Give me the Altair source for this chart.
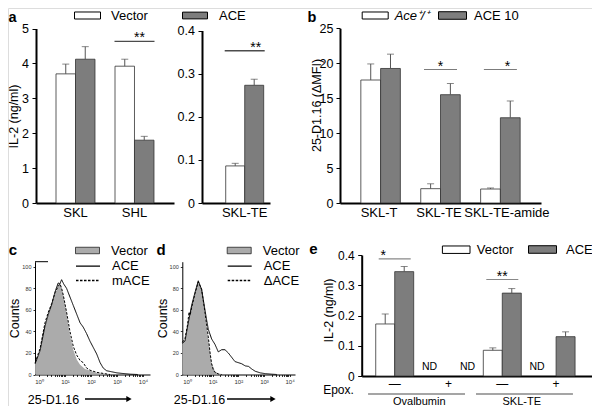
import math
import altair as alt
import pandas as pd

FONT = "Liberation Sans"
W, H = 584, 398
SERIES = ["Vector", "ACE"]
WHITE, DARK = "#ffffff", "#7d7d7d"
HIST_FILL = "#ababab"
RECT = "M-1,-0.27H1V0.27H-1Z"
LINE_SYM = "M-2,0H2"
TOP_LEG_Y = 15


def P(v):
    return v - 8


# ---------------- data ----------------
a1_groups = ["SKL", "SHL"]
a1_vector = [3.70, 3.92]
a1_vector_top = [3.98, 4.12]
a1_ace = [4.12, 1.80]
a1_ace_top = [4.48, 1.91]
a1_sig_groups = ["SHL"]
a1_sig_level = [4.63]
a1_sig_text = ["**"]

a2_groups = ["SKL-TE"]
a2_vector = [0.086]
a2_vector_top = [0.092]
a2_ace = [0.273]
a2_ace_top = [0.287]
a2_sig_groups = ["SKL-TE"]
a2_sig_level = [0.353]
a2_sig_text = ["**"]

b_groups = ["SKL-T", "SKL-TE", "SKL-TE-amide"]
b_wt = [17.6, 2.05, 2.0]
b_wt_top = [19.9, 2.75, 2.15]
b_ace = [19.25, 15.5, 12.2]
b_ace_top = [21.3, 17.1, 14.6]
b_sig_groups = ["SKL-TE", "SKL-TE-amide"]
b_sig_level = [19.1, 19.1]
b_sig_text = ["*", "*"]
b_labels = ["Ace⁺/⁺", "ACE 10"]

e_groups = ["Ovalbumin −", "Ovalbumin +", "SKL-TE −", "SKL-TE +"]
e_vector = [0.172, None, 0.085, None]
e_vector_top = [0.205, None, 0.093, None]
e_ace = [0.345, None, 0.274, 0.130]
e_ace_top = [0.362, None, 0.289, 0.146]
e_sig_groups = ["Ovalbumin −", "SKL-TE −"]
e_sig_level = [0.387, 0.319]
e_sig_text = ["*", "**"]
e_supergroups = ["Ovalbumin", "SKL-TE"]

# histograms: x in log10 units of fluorescence, y in counts
c_vector_L = [-0.15, 0.04, 0.23, 0.36, 0.49, 0.62, 0.74, 0.81, 0.87, 0.94, 1.06, 1.19, 1.32, 1.45, 1.58, 1.77, 2.03, 2.22, 2.47, 2.73]
c_vector_n = [10, 21, 44, 55, 64, 75, 83, 85, 80, 73, 57, 37, 23, 14, 9, 5, 3, 1.5, 0.6, 0]
c_ace_L = [-0.15, 0.04, 0.23, 0.36, 0.49, 0.62, 0.74, 0.80, 0.87, 0.95, 1.06, 1.19, 1.32, 1.45, 1.58, 1.70, 1.83, 1.96, 2.09, 2.22, 2.35, 2.47, 2.60, 2.80, 3.00, 3.20, 3.50, 3.80]
c_ace_n = [10, 22, 45, 56, 65, 77, 85, 84, 88, 84, 80, 72, 64, 56, 48, 44, 38, 31, 25, 19, 11, 6, 3.5, 2.5, 1.5, 1, 0.3, 0]
c_mace_L = [-0.15, 0.04, 0.23, 0.36, 0.49, 0.62, 0.74, 0.81, 0.87, 0.94, 1.06, 1.19, 1.32, 1.45, 1.58, 1.70, 1.83, 1.96, 2.22, 2.47, 2.73]
c_mace_n = [11, 24, 48, 58, 66, 76, 82, 84, 80, 73, 58, 40, 26, 18, 13, 11, 6, 4, 2, 1, 0]

d_vector_L = [-0.18, -0.08, 0.05, 0.18, 0.31, 0.44, 0.57, 0.70, 0.83, 0.96, 1.09, 1.22, 1.35]
d_vector_n = [29, 31, 48, 63, 76, 87, 79, 57, 33, 11, 3, 1, 0]
d_ace_L = [-0.18, -0.08, 0.05, 0.18, 0.31, 0.44, 0.57, 0.70, 0.77, 0.83, 0.96, 1.09, 1.22, 1.35, 1.48, 1.61, 1.74, 1.87, 2.00, 2.13, 2.27, 2.40, 2.53, 2.66, 2.86, 3.05, 3.30, 3.50]
d_ace_n = [29, 31, 48, 64, 76, 87, 79, 60, 50, 42, 33, 28, 21, 23, 23, 20, 16, 12, 11, 10, 8, 7.5, 5, 3, 1.5, 0.8, 0.3, 0]
d_dace_L = [-0.18, -0.08, 0.02, 0.08, 0.12, 0.18, 0.31, 0.44, 0.57, 0.70, 0.83, 0.90, 0.96, 1.03, 1.09, 1.22, 1.35]
d_dace_n = [30, 33, 46, 58, 55, 62, 75, 86, 79, 58, 35, 20, 10, 4, 2, 0.5, 0]

hist_major = [0, 1, 2, 3, 4]
hist_ticks = sorted(set(hist_major + [round(math.log10(k) + n, 4) for n in range(4) for k in range(2, 10)]))
count_ticks = [0, 20, 40, 60, 80, 100]


# ---------------- helpers ----------------
def y_axis(x_page, values, fmt=None, title=None, tx=None, ty=None, lsize=12.5, tick=4, pad=3.5,
           dwidth=2, tsize=12.5):
    kw = dict(orient="left", offset=-P(x_page), values=values, grid=False,
              labelFont=FONT, labelFontSize=lsize, labelColor="black", labelPadding=pad,
              tickSize=tick, tickColor="black", tickWidth=1,
              domainColor="black", domainWidth=dwidth, labelOverlap=False)
    if fmt:
        kw["format"] = fmt
    if title:
        kw.update(title=title, titleFont=FONT, titleFontSize=tsize, titleFontWeight="normal",
                  titleColor="black", titleAngle=270, titleAlign="center", titleBaseline="middle",
                  titleX=P(tx) - P(x_page), titleY=P(ty))
    else:
        kw["title"] = None
    return alt.Axis(**kw)


def band_x_axis(y_page, label_expr=None, title=None, tx=None, ty_off=None, lsize=13, pad=3,
                label_offset=None):
    kw = dict(orient="bottom", offset=P(y_page) - H, ticks=False, grid=False, labelAngle=0,
              labelFont=FONT, labelFontSize=lsize, labelColor="black", labelPadding=pad,
              domainColor="black", domainWidth=2, labelOverlap=False)
    if label_expr:
        kw["labelExpr"] = label_expr
    if label_offset is not None:
        kw["labelOffset"] = label_offset
    if title:
        kw.update(title=title, titleFont=FONT, titleFontSize=12, titleFontWeight="normal",
                  titleColor="black", titleAlign="center", titleBaseline="middle",
                  titleX=P(tx), titleY=ty_off)
    else:
        kw["title"] = None
    return alt.Axis(**kw)


def fill_legend(x_page, y_page, sym_w, label_off, italic=False):
    kw = dict(orient="none", legendX=P(x_page), legendY=P(y_page) - sym_w / 2, title=None,
              symbolType=RECT, symbolSize=sym_w ** 2, symbolStrokeColor="black",
              symbolStrokeWidth=1, labelFont=FONT, labelFontSize=13, labelColor="black",
              labelOffset=label_off, padding=0)
    if italic:
        kw["labelFontStyle"] = "italic"
    return alt.Legend(**kw)


def bar_panel(groups, vec, vec_top, ace, ace_top, labels, xr, pin, pout, align, yr, ydom,
              yax, xax, sig_groups, sig_level, sig_text, sig_size, sig_color, sig_width,
              legends=(None, None), nd=False):
    rows = []
    for g, v, t in zip(groups, vec, vec_top):
        rows.append(dict(group=g, series="Vector", label=labels[0], value=v, top=t, base=0))
    for g, v, t in zip(groups, ace, ace_top):
        rows.append(dict(group=g, series="ACE", label=labels[1], value=v, top=t, base=0))
    df = pd.DataFrame(rows)
    sig_df = pd.DataFrame(dict(group=sig_groups, level=sig_level, stars=sig_text))

    xs = alt.Scale(domain=groups, range=[P(xr[0]), P(xr[1])], paddingInner=pin,
                   paddingOuter=pout, align=align)
    ys = alt.Scale(domain=ydom, range=[P(yr[0]), P(yr[1])], nice=False, zero=True)
    xo = alt.XOffset("series:N", scale=alt.Scale(domain=SERIES, paddingInner=0, paddingOuter=0))

    def xe(ax=None):
        return alt.X("group:N", scale=xs, axis=ax)

    layers = []
    for i, (sname, color) in enumerate([("Vector", WHITE), ("ACE", DARK)]):
        sub = df[(df.series == sname)]
        layers.append(
            alt.Chart(sub).mark_bar(stroke="#333", strokeWidth=0.8).encode(
                x=xe(xax if i == 0 else None), xOffset=xo,
                y=alt.Y("value:Q", scale=ys, axis=yax if i == 0 else None),
                fill=alt.Fill("label:N", scale=alt.Scale(domain=[labels[i]], range=[color]),
                              legend=legends[i]),
            )
        )
    layers.append(
        alt.Chart(df).mark_rule(color="#555", strokeWidth=1).encode(
            x=xe(), xOffset=xo, y=alt.Y("value:Q", scale=ys, axis=None), y2="top:Q")
    )
    layers.append(
        alt.Chart(df).mark_tick(orient="horizontal", size=7, thickness=1, color="#555").encode(
            x=xe(), xOffset=xo, y=alt.Y("top:Q", scale=ys, axis=None))
    )
    layers.append(
        alt.Chart(sig_df).mark_tick(orient="horizontal", size=sig_size, thickness=sig_width,
                                    color=sig_color).encode(
            x=xe(), y=alt.Y("level:Q", scale=ys, axis=None))
    )
    layers.append(
        alt.Chart(sig_df).mark_text(font=FONT, fontSize=14, baseline="alphabetic",
                                    align="center", color="black", dy=1).encode(
            x=xe(), y=alt.Y("level:Q", scale=ys, axis=None), text="stars:N")
    )
    if nd:
        nd_df = df[df.value.isna()]
        layers.append(
            alt.Chart(nd_df).mark_text(font=FONT, fontSize=10.5, baseline="alphabetic",
                                       align="center", color="black", dy=-6.5).encode(
                x=xe(), xOffset=xo, y=alt.Y("base:Q", scale=ys, axis=None), text=alt.value("ND"))
        )
    return layers


def hist_panel(vL, vn, sL, sn, s2name, s2L, s2n, xr, xdom, counts_x, title_x, leg_x):
    area_df = pd.DataFrame(dict(L=vL, n=vn, series="Vector"))
    line_df = pd.concat([
        pd.DataFrame(dict(L=sL, n=sn, series="ACE")),
        pd.DataFrame(dict(L=s2L, n=s2n, series=s2name)),
    ])
    xs = alt.Scale(domain=xdom, range=[P(xr[0]), P(xr[1])], nice=False, zero=False)
    ys = alt.Scale(domain=[0, 104.7], range=[P(374.5), P(261.7)], nice=False, zero=True)
    xax = alt.Axis(orient="bottom", offset=P(374.5) - H, values=hist_ticks, grid=False,
                   labelExpr="indexof([0,1,2,3,4], datum.value) >= 0 ? '10' + ['⁰','¹','²','³','⁴'][datum.value] : ''",
                   labelFont=FONT, labelFontSize=6, labelColor="#333", labelPadding=2,
                   labelOverlap=False, labelFlush=False,
                   tickSize=2, tickColor="black", tickWidth=0.8, domainColor="black", domainWidth=1,
                   title="25-D1.16", titleFont=FONT, titleFontSize=12.5, titleFontWeight="normal",
                   titleColor="black", titleAlign="center", titleBaseline="middle",
                   titleX=P(title_x), titleY=P(399) - P(374.5))
    yax = alt.Axis(orient="left", offset=-P(xr[0]), values=count_ticks, grid=False,
                   labelFont=FONT, labelFontSize=5.5, labelColor="#333", labelPadding=2,
                   tickSize=2, tickColor="black", tickWidth=0.8, domainColor="black", domainWidth=1,
                   title="Counts", titleFont=FONT, titleFontSize=12.5, titleFontWeight="normal",
                   titleColor="black", titleAngle=270, titleAlign="center", titleBaseline="middle",
                   titleX=P(counts_x) - P(xr[0]), titleY=P(318))
    area = alt.Chart(area_df).mark_area(interpolate="linear").encode(
        x=alt.X("L:Q", scale=xs, axis=xax),
        y=alt.Y("n:Q", scale=ys, axis=yax),
        fill=alt.Fill("series:N", scale=alt.Scale(domain=["Vector"], range=[HIST_FILL]),
                      legend=alt.Legend(orient="none", legendX=P(leg_x), legendY=P(250) - 12,
                                        title=None, symbolType=RECT, symbolSize=24 ** 2,
                                        symbolStrokeColor="#222", symbolStrokeWidth=0.8,
                                        labelFont=FONT, labelFontSize=13, labelColor="black",
                                        labelOffset=11, padding=0)),
    )
    lines = alt.Chart(line_df).mark_line(color="black", strokeWidth=1).encode(
        x=alt.X("L:Q", scale=xs, axis=None),
        y=alt.Y("n:Q", scale=ys, axis=None),
        strokeDash=alt.StrokeDash("series:N",
                                  scale=alt.Scale(domain=["ACE", s2name], range=[[1, 0], [2.5, 1.5]]),
                                  legend=alt.Legend(orient="none", legendX=P(leg_x + 6),
                                                    legendY=P(265.7) - 6.5, title=None,
                                                    symbolType=LINE_SYM, symbolSize=144,
                                                    symbolStrokeColor="black", symbolStrokeWidth=1.3,
                                                    labelFont=FONT, labelFontSize=13,
                                                    labelColor="black", labelOffset=17,
                                                    rowPadding=0.3, padding=0)),
    )
    return [area, lines]


def one(txt):
    return pd.DataFrame({"t": [txt]})


def letter(txt, x, y, size=15):
    return alt.Chart(one(txt)).mark_text(font=FONT, fontSize=size, fontWeight="bold",
                                         align="center", baseline="alphabetic", color="black").encode(
        text="t:N", x=alt.value(P(x)), y=alt.value(P(y)))


def arrow(x0, x1, y):
    line = alt.Chart(one("")).mark_rule(color="black", strokeWidth=1.6).encode(
        x=alt.value(P(x0)), x2=alt.value(P(x1)), y=alt.value(P(y)))
    head = alt.Chart(one("")).mark_point(shape="triangle-right", filled=True, color="black",
                                         size=38, opacity=1).encode(
        x=alt.value(P(x1 + 1)), y=alt.value(P(y)))
    return [line, head]


# ---------------- panels ----------------
panel_a1 = bar_panel(
    a1_groups, a1_vector, a1_vector_top, a1_ace, a1_ace_top, ["Vector", "ACE"],
    (36, 174), 0.339, 0.339, 0.5, (203, 28.5), [0, 5],
    y_axis(36, [0, 1, 2, 3, 4, 5], title="IL-2 (ng/ml)", tx=13.5, ty=116),
    band_x_axis(203),
    a1_sig_groups, a1_sig_level, a1_sig_text, 40, "black", 1.4,
    legends=(fill_legend(74, TOP_LEG_Y, 26, 10), fill_legend(182, TOP_LEG_Y, 25, 11)),
)

panel_a2 = bar_panel(
    a2_groups, a2_vector, a2_vector_top, a2_ace, a2_ace_top, ["Vector", "ACE"],
    (202, 270), 0.0, 0.395, 0.79, (203, 30.5), [0, 0.4],
    y_axis(202, [0, 0.1, 0.2, 0.3, 0.4], fmt="~g"),
    band_x_axis(203),
    a2_sig_groups, a2_sig_level, a2_sig_text, 40, "black", 1.4,
)

panel_b = bar_panel(
    b_groups, b_wt, b_wt_top, b_ace, b_ace_top, b_labels,
    (340, 541), 0.34, 0.348, 0.5, (203, 28.3), [0, 25],
    y_axis(340, [0, 5, 10, 15, 20, 25], title="25-D1.16 (ΔMFI)", tx=316, ty=105, pad=3),
    band_x_axis(203, label_offset={"condition": {"test": "datum.value == 'SKL-TE-amide'", "value": 6.5},
                                   "value": -1.5}),
    b_sig_groups, b_sig_level, b_sig_text, 33, "#444", 1,
    legends=(fill_legend(361.7, TOP_LEG_Y, 26, 6, italic=True), fill_legend(438, TOP_LEG_Y, 28, 7)),
)

panel_e = bar_panel(
    e_groups, e_vector, e_vector_top, e_ace, e_ace_top, ["Vector", "ACE"],
    (361.7, 600), 0.294, 0.362, 0.36, (376, 255), [0, 0.4],
    y_axis(361.7, [0, 0.1, 0.2, 0.3, 0.4], fmt="~g", title="IL-2 (ng/ml)", tx=328, ty=310,
           lsize=12),
    band_x_axis(376, label_expr="slice(datum.value, -1) == '+' ? '+' : '—'",
                title="Epox.", tx=338, ty_off=13.5, lsize=12, pad=2),
    e_sig_groups, e_sig_level, e_sig_text, 32, "#555", 1.2,
    legends=(fill_legend(441.7, 249, 27.6, 6), fill_legend(528, 249, 28, 9)),
    nd=True,
)

sg_scale = alt.Scale(domain=e_supergroups, range=[P(368), P(573)], paddingInner=0.1, paddingOuter=0)
sg_df = pd.DataFrame({"sg": e_supergroups})
e_super_lines = alt.Chart(sg_df).mark_tick(orient="horizontal", size=97, thickness=1.2,
                                           color="black").encode(
    x=alt.X("sg:N", scale=sg_scale, axis=None), y=alt.value(P(394)))
e_super_text = alt.Chart(sg_df).mark_text(font=FONT, fontSize=11, baseline="middle",
                                          align="center", color="black").encode(
    x=alt.X("sg:N", scale=sg_scale, axis=None), y=alt.value(P(401.5)), text="sg:N")

panel_c = hist_panel(c_vector_L, c_vector_n, c_ace_L, c_ace_n, "mACE", c_mace_L, c_mace_n,
                     (35, 150), [-0.154, 4.27], 14.5, 53, 75)
panel_d = hist_panel(d_vector_L, d_vector_n, d_ace_L, d_ace_n, "ΔACE", d_dace_L, d_dace_n,
                     (182.3, 295), [-0.183, 4.21], 162.5, 199, 226.7)

c_top_line = alt.Chart(one("")).mark_rule(color="black", strokeWidth=1).encode(
    x=alt.value(P(35)), x2=alt.value(P(48)), y=alt.value(P(261.7)))

annotations = [
    letter("a", 12.5, 21.5, 14.5), letter("b", 312, 21.5, 14.5), letter("c", 13, 255),
    letter("d", 161, 255), letter("e", 313.5, 254),
    c_top_line, e_super_lines, e_super_text,
] + arrow(85, 128, 399) + arrow(227, 272, 399)

units = panel_a1 + panel_a2 + panel_b + panel_c + panel_d + panel_e + annotations

chart = alt.layer(*units).resolve_scale(
    x="independent", y="independent", xOffset="independent",
    fill="independent", strokeDash="independent",
).resolve_axis(
    x="independent", y="independent",
).resolve_legend(
    fill="independent", strokeDash="independent",
).properties(
    width=W, height=H, autosize=alt.AutoSizeParams(type="none"), padding=0,
).configure_view(stroke=None).configure(font=FONT, background="white")

chart.save("out.html", embed_options={"renderer": "svg", "actions": False})
